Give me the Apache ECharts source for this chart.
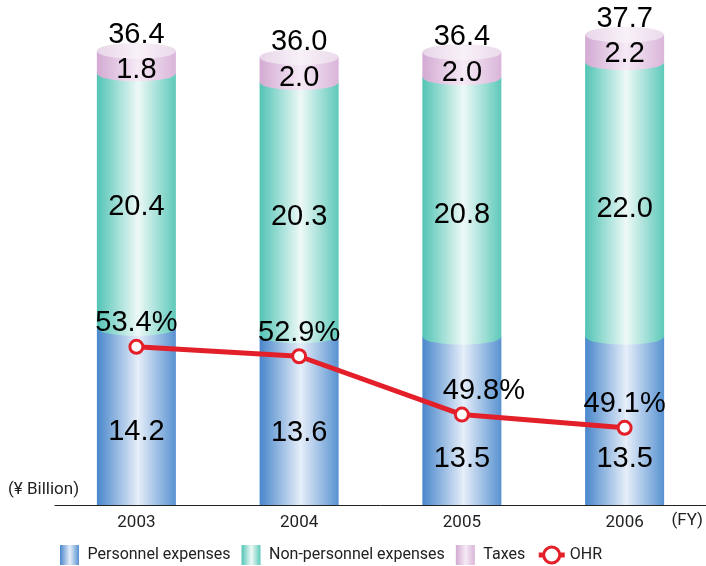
<!DOCTYPE html>
<html>
<head>
<meta charset="utf-8">
<script src="https://cdn.jsdelivr.net/npm/echarts@6/dist/echarts.min.js"></script>
<style>
  html, body { margin: 0; padding: 0; background: #fff; }
  #chart { width: 706px; height: 566px; }
</style>
</head>
<body>
<div id="chart"></div>
<script>
// Expense breakdown (¥ billion) and overhead ratio by fiscal year
const years = ['2003', '2004', '2005', '2006'];
const personnel = [14.2, 13.6, 13.5, 13.5];
const nonPersonnel = [20.4, 20.3, 20.8, 22.0];
const taxes = [1.8, 2.0, 2.0, 2.2];
const totals = [36.4, 36.0, 36.4, 37.7];
const ohr = [53.4, 52.9, 49.8, 49.1];

// vertical nudges for the value labels (pixels)
const personnelLabelDy = [16, 13, 38, 38];
const nonPersonnelLabelDy = [6, 8, 8, 10];
const taxesLabelDy = [8, 8, 8, 6];
const ohrLabelDx = [0, 0, 22, 0];

const NUM_FONT = '"Liberation Sans", Arial, Helvetica, sans-serif';
const SMALL_FONT = 'Roboto, "Liberation Sans", sans-serif';
const BAR_W = 79;

function cylinder(left, mid, right) {
  return new echarts.graphic.LinearGradient(0, 0, 1, 0, [
    { offset: 0, color: left },
    { offset: 0.52, color: mid },
    { offset: 1, color: right }
  ]);
}
const blueFill = cylinder('#4886cb', '#e6eef9', '#5892d1');
const tealFill = cylinder('#52c4b5', '#eef9f7', '#5ec9ba');
const pinkFill = cylinder('#d3aad3', '#f5eaf5', '#dab5da');
const capFill = cylinder('#e8d6e8', '#f8f1f8', '#ebdaeb');

const cumPersonnel = personnel.map(v => v);
const cumNon = personnel.map((v, i) => v + nonPersonnel[i]);
const cumAll = cumNon.map((v, i) => v + taxes[i]);

const labelStyle = { color: '#000', fontSize: 29, fontFamily: NUM_FONT };

// value labels sit in their own layer above the cylinder shading
const labelPoints = [];
years.forEach((y, i) => {
  labelPoints.push({ value: [i, personnel[i] / 2], text: personnel[i].toFixed(1),
    label: { offset: [0, personnelLabelDy[i]] } });
  labelPoints.push({ value: [i, cumPersonnel[i] + nonPersonnel[i] / 2], text: nonPersonnel[i].toFixed(1),
    label: { offset: [0, nonPersonnelLabelDy[i]] } });
  labelPoints.push({ value: [i, cumNon[i] + taxes[i] / 2], text: taxes[i].toFixed(1),
    label: { offset: [0, taxesLabelDy[i]] } });
});
const totalPoints = years.map((y, i) => ({ value: [i, cumAll[i]], text: totals[i].toFixed(1) }));

function ellipseSeries(name, data, fill, z) {
  return {
    name: name,
    type: 'pictorialBar',
    symbol: 'circle',
    symbolSize: [BAR_W, 16],
    symbolPosition: 'end',
    symbolOffset: [0, '-50%'],
    itemStyle: { color: fill },
    data: data,
    z: z,
    silent: true
  };
}

const chart = echarts.init(document.getElementById('chart'));
chart.setOption({
  animation: false,
  backgroundColor: '#fff',
  grid: { left: 55, right: 0, top: 6, bottom: 61 },
  legend: {
    data: [
      { name: 'Personnel expenses', icon: 'path://M0,0H19V20H0Z' },
      { name: 'Non-personnel expenses', icon: 'path://M0,0H19V20H0Z' },
      { name: 'Taxes', icon: 'path://M0,0H19V20H0Z' },
      { name: 'OHR', lineStyle: { width: 5 }, itemStyle: { borderWidth: 3 } }
    ],
    left: 55,
    top: 540,
    itemWidth: 26,
    itemHeight: 20,
    itemGap: 11,
    textStyle: { color: '#222', fontSize: 16, fontFamily: SMALL_FONT }
  },
  xAxis: {
    type: 'category',
    data: years,
    axisLine: { lineStyle: { color: '#222', width: 1 } },
    axisTick: { show: false },
    axisLabel: { color: '#222', fontSize: 17, fontFamily: SMALL_FONT, margin: 9 }
  },
  yAxis: [
    { type: 'value', min: 0, max: 40, show: false },
    { type: 'value', min: 45, max: 71.5, show: false }
  ],
  graphic: [
    { type: 'text', left: 8, top: 481,
      style: { text: '(¥ Billion)', fill: '#222', fontSize: 17, fontFamily: SMALL_FONT } },
    { type: 'text', right: 3, top: 512,
      style: { text: '(FY)', fill: '#222', fontSize: 17, fontFamily: SMALL_FONT } }
  ],
  series: [
    { name: 'Personnel expenses', type: 'bar', stack: 'exp', barWidth: BAR_W,
      itemStyle: { color: blueFill }, data: personnel, z: 2 },
    { name: 'Non-personnel expenses', type: 'bar', stack: 'exp', barWidth: BAR_W,
      itemStyle: { color: tealFill }, data: nonPersonnel, z: 2 },
    { name: 'Taxes', type: 'bar', stack: 'exp', barWidth: BAR_W,
      itemStyle: { color: pinkFill }, data: taxes, z: 2 },
    ellipseSeries('non-personnel base', cumPersonnel, tealFill, 3),
    ellipseSeries('taxes base', cumNon, pinkFill, 4),
    ellipseSeries('cap', cumAll, capFill, 5),
    {
      name: 'segment values', type: 'scatter', symbolSize: 0, data: labelPoints, z: 8, silent: true,
      itemStyle: { opacity: 1 },
      label: { show: true, position: 'inside', formatter: p => p.data.text, ...labelStyle }
    },
    {
      name: 'totals', type: 'scatter', symbolSize: 0, data: totalPoints, z: 8, silent: true,
      itemStyle: { opacity: 1 },
      label: { show: true, position: 'top', distance: 1, formatter: p => p.data.text, ...labelStyle }
    },
    {
      name: 'OHR', type: 'line', yAxisIndex: 1,
      data: ohr.map((v, i) => ({ value: v, label: { offset: [ohrLabelDx[i], 0] } })),
      symbol: 'circle', symbolSize: 13, z: 9,
      lineStyle: { color: '#e3202a', width: 5 },
      itemStyle: { color: '#fff', borderColor: '#e3202a', borderWidth: 3 },
      label: { show: true, position: 'top', distance: 1,
        formatter: p => p.value.toFixed(1) + '%', ...labelStyle }
    }
  ]
});
</script>
</body>
</html>
